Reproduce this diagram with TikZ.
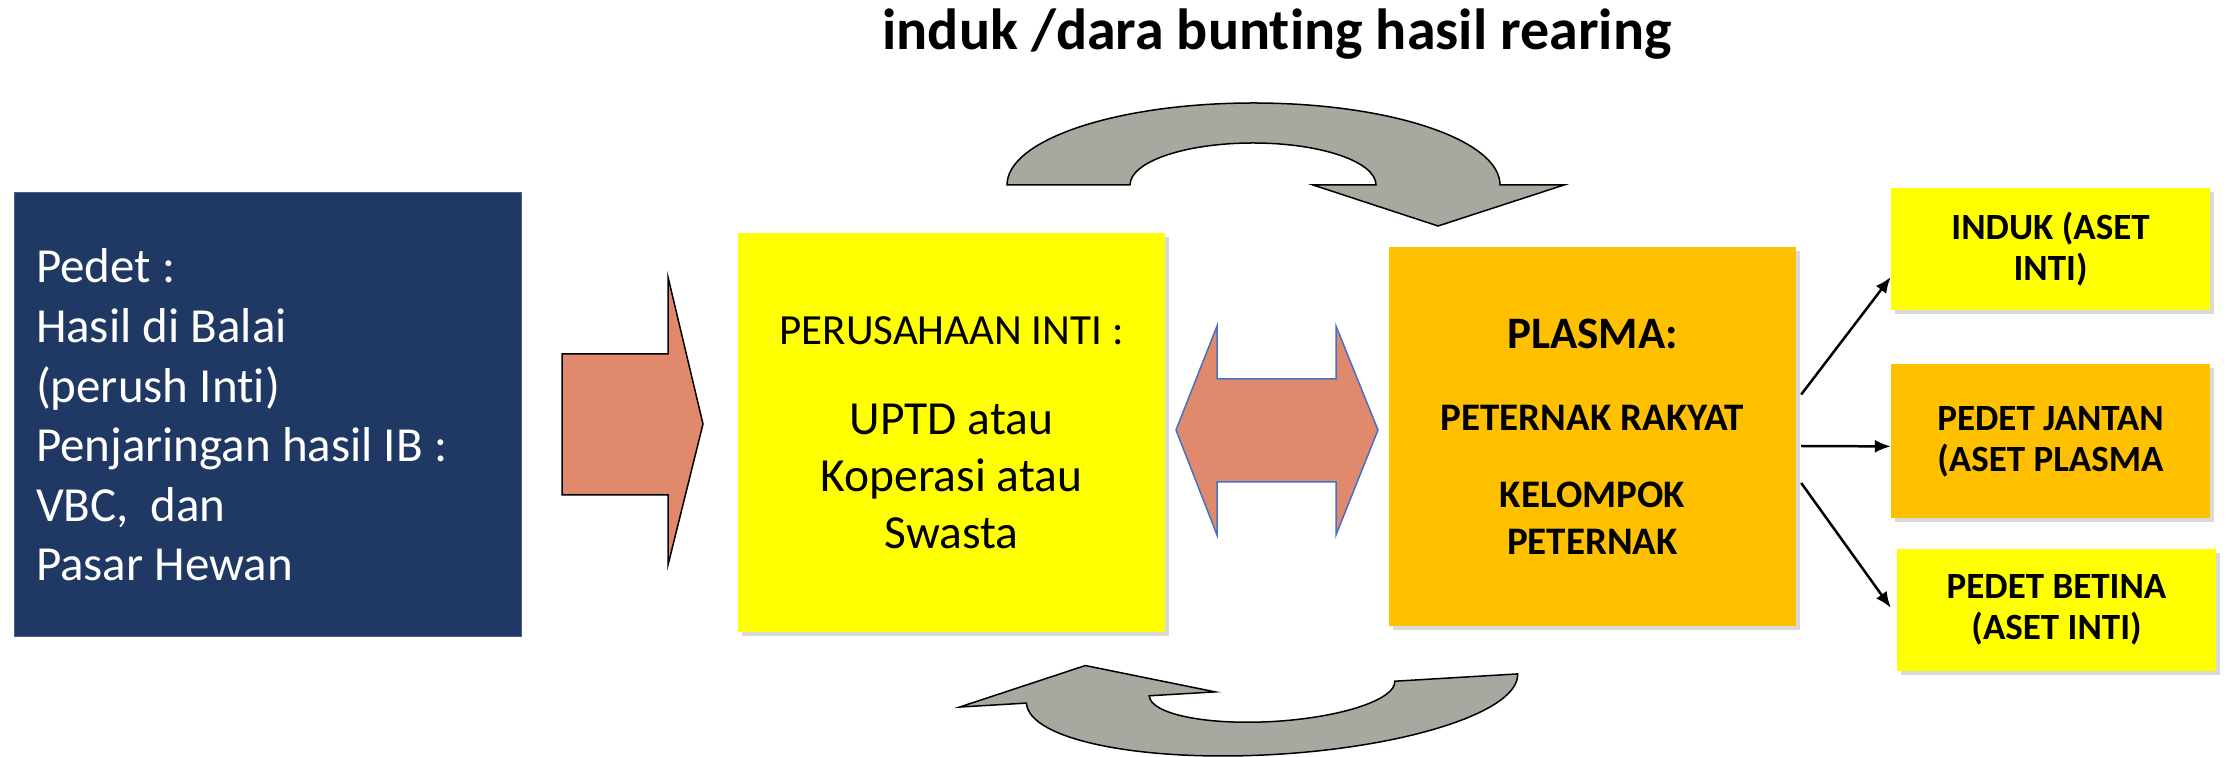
\documentclass[tikz,border=0pt]{standalone}
\usepackage{fontspec}
\setmainfont{Carlito}[Ligatures=NoCommon]
\usetikzlibrary{positioning,shadows,arrows.meta}

\definecolor{navybox}{RGB}{32,56,100}
\definecolor{navyedge}{RGB}{70,95,140}
\definecolor{intiyellow}{RGB}{255,255,0}
\definecolor{plasmaorange}{RGB}{255,192,0}
\definecolor{salmon}{RGB}{224,137,108}
\definecolor{curvegray}{RGB}{168,168,160}
\definecolor{arrowblue}{RGB}{68,114,196}

\tikzset{
  box/.style={rectangle, inner sep=0pt, align=flush center,
    drop shadow={shadow xshift=4pt, shadow yshift=-4pt, opacity=0.3}},
  smallbox/.style={box, minimum width=319pt, minimum height=122pt,
    font=\fontsize{37}{41}\selectfont\bfseries},
  blockarrow/.style={fill=salmon, line width=1.5pt, line join=miter},
  curved/.style={fill=curvegray, draw=black, line width=1.5pt},
  link/.style={-{Latex[length=16pt,width=13pt]}, line width=2.5pt},
}

\begin{document}
\begin{tikzpicture}[x=1pt, y=1pt]
\useasboundingbox (0,0) rectangle (2226,757);

\node[font=\fontsize{58}{64}\selectfont\bfseries, anchor=base] (title) at (1277,707)
  {induk /dara bunting hasil rearing};

% source box
\node[rectangle, fill=navybox, draw=navyedge, line width=1pt, minimum width=507pt,
  minimum height=444pt, text width=463pt, inner xsep=22pt, inner ysep=0pt, align=flush left,
  text=white, font=\fontsize{49}{59.6}\selectfont] (pedet) at (267.5,342)
  {Pedet :\\ Hasil di Balai\\ (perush Inti)\\ Penjaringan hasil IB :\\ VBC,\ \ dan\\ Pasar Hewan};

% inti and plasma
\node[box, fill=intiyellow, minimum width=427pt, minimum height=399pt,
  font=\fontsize{47.5}{57}\selectfont] (inti) at (951.5,324.5)
  {{\fontsize{43}{57}\selectfont PERUSAHAAN INTI :}\\[33pt] UPTD atau\\ Koperasi atau\\ Swasta};
\node[box, fill=plasmaorange, minimum width=407pt, minimum height=379pt,
  font=\fontsize{39}{47}\selectfont\bfseries] (plasma) at (1592.5,320.5)
  {{\fontsize{45}{47}\selectfont PLASMA:}\\[35pt] PETERNAK RAKYAT\\[30pt] KELOMPOK\\ PETERNAK};

% hasil
\node[smallbox, fill=intiyellow] (induk) at (2050.5,508) {INDUK (ASET\\ INTI)};
\node[smallbox, fill=plasmaorange, minimum height=154pt, below=54pt of induk] (jantan)
  {PEDET JANTAN\\ (ASET PLASMA};
\node[smallbox, fill=intiyellow, below=30pt of jantan, xshift=6pt] (betina)
  {PEDET BETINA\\ (ASET INTI)};

\draw[link] ([shift={(5,42)}]plasma.east) -- ([yshift=-28pt]induk.west);
\draw[link] ([shift={(5,-9.5)}]plasma.east) -- ([yshift=-5pt]jantan.west);
\draw[link] ([shift={(5,-46.5)}]plasma.east) -- ([shift={(-6,2)}]betina.west);

% block arrows
\draw[blockarrow, draw=black] (562,403) -- (668,403) -- (668,480) -- (703,333)
  -- (668,192) -- (668,262) -- (562,262) -- cycle;
\draw[blockarrow, draw=arrowblue] (1176,327) -- (1217,431) -- (1217,378) -- (1336,378)
  -- (1336,431) -- (1378,327) -- (1336,222) -- (1336,275) -- (1217,275) -- (1217,222) -- cycle;

% curved arrows
\draw[curved] (1007,572) arc[start angle=180, end angle=0, x radius=246.5, y radius=82]
  -- (1564,572) -- (1438,531) -- (1313,572) -- (1376,572)
  arc[start angle=0, end angle=180, x radius=123, y radius=42] -- cycle;
\draw[curved, shift={(1272,68.5)}, rotate=3.4] (246,0)
  arc[start angle=0, end angle=-180, x radius=246, y radius=66]
  -- (-313,0) -- (-185,34) -- (-57,0) -- (-123,0)
  arc[start angle=180, end angle=360, x radius=123, y radius=33] -- cycle;
\end{tikzpicture}
\end{document}
